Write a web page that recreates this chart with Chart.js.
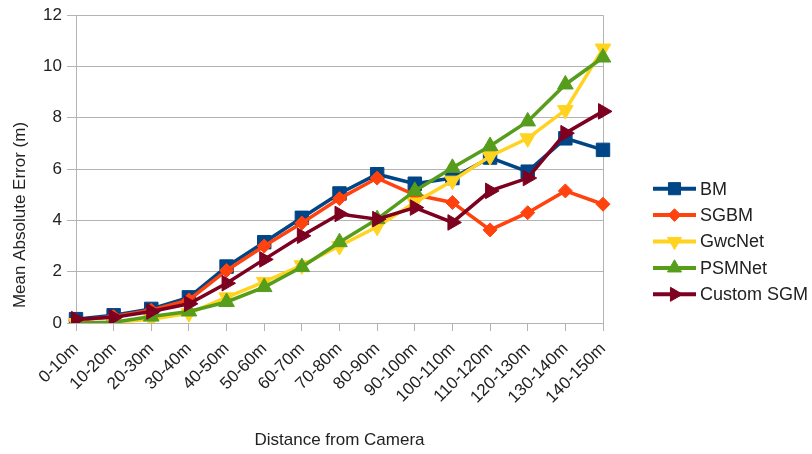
<!DOCTYPE html>
<html>
<head>
<meta charset="utf-8">
<script src="https://cdn.jsdelivr.net/npm/chart.js@4.4.0/dist/chart.umd.min.js"></script>
<style>
  html, body { margin: 0; padding: 0; background: #ffffff; }
  #wrap { width: 812px; height: 454px; }
</style>
</head>
<body>
<div id="wrap"><canvas id="c" width="812" height="454"></canvas></div>
<script>
// Distance bins along the x axis
const distanceBins = ['0-10m', '10-20m', '20-30m', '30-40m', '40-50m', '50-60m', '60-70m', '70-80m',
  '80-90m', '90-100m', '100-110m', '110-120m', '120-130m', '130-140m', '140-150m'];

// Mean absolute error (m) per method
const bmError      = [0.15, 0.30, 0.55, 1.00, 2.20, 3.15, 4.10, 5.05, 5.80, 5.43, 5.65, 6.45, 5.90, 7.20, 6.75];
const sgbmError    = [0.10, 0.25, 0.50, 0.90, 2.05, 3.00, 3.90, 4.85, 5.65, 5.00, 4.70, 3.63, 4.30, 5.15, 4.63];
const gwcnetError  = [0.00, 0.03, 0.15, 0.38, 1.00, 1.60, 2.25, 3.00, 3.75, 4.70, 5.55, 6.50, 7.20, 8.30, 10.70];
const psmnetError  = [0.00, 0.03, 0.25, 0.45, 0.82, 1.40, 2.18, 3.15, 4.05, 5.15, 6.05, 6.90, 7.86, 9.30, 10.35];
const customSgmError = [0.15, 0.22, 0.45, 0.75, 1.55, 2.48, 3.40, 4.25, 4.05, 4.50, 3.92, 5.15, 5.65, 7.40, 8.25];

const yTicks = { min: 0, max: 12, step: 2 };

const FONT = "'Liberation Sans', Arial, sans-serif";
const TEXT = '#222222';
const GRID = '#b3b3b3';

function series(label, data, color, style, rotation, radius, order) {
  return {
    label, data, order,
    borderColor: color,
    backgroundColor: color,
    pointBackgroundColor: color,
    pointBorderColor: color,
    pointStyle: style,
    pointRotation: rotation,
    pointRadius: radius,
    pointBorderWidth: 1,
    borderWidth: 3.5,
    tension: 0,
    fill: false
  };
}

const datasets = [
  series('BM', bmError, '#004586', 'rect', 0, 9.5, 5),
  series('SGBM', sgbmError, '#ff420e', 'rectRot', 0, 7, 4),
  series('GwcNet', gwcnetError, '#ffd320', 'triangle', 180, 9, 3),
  series('PSMNet', psmnetError, '#579d1c', 'triangle', 0, 9, 2),
  series('Custom SGM', customSgmError, '#7e0021', 'triangle', 90, 9, 1)
];

// Legend on the right: line sample with marker, then the series name
const sideLegend = {
  id: 'sideLegend',
  afterDraw(chart) {
    const ctx = chart.ctx;
    const x0 = 653, x1 = 696, textX = 700;
    const y0 = 188.7, rowGap = 26.4;
    ctx.save();
    chart.data.datasets.forEach((ds, i) => {
      const y = y0 + i * rowGap;
      ctx.strokeStyle = ds.borderColor;
      ctx.lineWidth = 4;
      ctx.beginPath();
      ctx.moveTo(x0, y);
      ctx.lineTo(x1, y);
      ctx.stroke();
      ctx.fillStyle = ds.pointBackgroundColor;
      ctx.strokeStyle = ds.pointBorderColor;
      ctx.lineWidth = 1;
      Chart.helpers.drawPoint(ctx, {
        pointStyle: ds.pointStyle,
        rotation: ds.pointRotation,
        radius: ds.pointRadius * 0.9,
        borderWidth: 1
      }, (x0 + x1) / 2, y);
      ctx.fillStyle = TEXT;
      ctx.font = '18px ' + FONT;
      ctx.textAlign = 'left';
      ctx.textBaseline = 'middle';
      ctx.fillText(ds.label, textX, y + 1);
    });
    ctx.restore();
  }
};

// Vertical axis title
const yTitle = {
  id: 'yTitle',
  afterDraw(chart) {
    const ctx = chart.ctx;
    ctx.save();
    ctx.translate(20, 215);
    ctx.rotate(-Math.PI / 2);
    ctx.fillStyle = TEXT;
    ctx.font = '17px ' + FONT;
    ctx.textAlign = 'center';
    ctx.textBaseline = 'middle';
    ctx.fillText('Mean Absolute Error (m)', 0, 0);
    ctx.restore();
  }
};

new Chart(document.getElementById('c'), {
  type: 'line',
  data: { labels: distanceBins, datasets },
  options: {
    responsive: false,
    animation: false,
    layout: { padding: { top: 13, right: 209, left: 0, bottom: 0 } },
    plugins: {
      legend: { display: false },
      tooltip: { enabled: false }
    },
    scales: {
      x: {
        type: 'category',
        offset: false,
        afterFit(scale) { scale.height = 131; },
        grid: {
          drawOnChartArea: true,
          color: (c) => (c.index === distanceBins.length - 1 ? GRID : 'rgba(0,0,0,0)'),
          tickColor: GRID,
          tickLength: 8,
          lineWidth: 1
        },
        border: { display: true, color: GRID, width: 1 },
        ticks: {
          autoSkip: false,
          minRotation: 45,
          maxRotation: 45,
          padding: 8,
          color: TEXT,
          font: { family: FONT, size: 17 }
        },
        title: {
          display: true,
          text: 'Distance from Camera',
          color: TEXT,
          font: { family: FONT, size: 17 },
          padding: { top: 0, bottom: 3 }
        }
      },
      y: {
        min: yTicks.min,
        max: yTicks.max,
        afterFit(scale) { scale.width = 76; },
        grid: { color: GRID, tickLength: 9, lineWidth: 1 },
        border: { display: true, color: GRID, width: 1 },
        ticks: {
          stepSize: yTicks.step,
          padding: 5,
          color: TEXT,
          font: { family: FONT, size: 17 }
        }
      }
    }
  },
  plugins: [sideLegend, yTitle]
});
</script>
</body>
</html>
